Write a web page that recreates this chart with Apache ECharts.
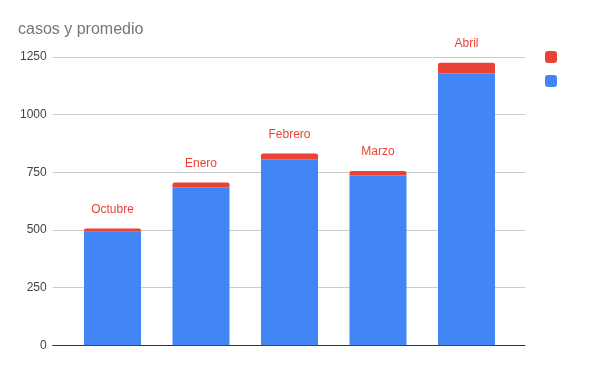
<!DOCTYPE html>
<html><head><meta charset="utf-8">
<script src="https://cdn.jsdelivr.net/npm/echarts@6/dist/echarts.min.js"></script>
<style>html,body{margin:0;padding:0;background:#fff}#c{width:600px;height:371px}</style>
</head><body><div id="c"></div>
<script>
const categories = ['Octubre', 'Enero', 'Febrero', 'Marzo', 'Abril'];
const casos = [492, 684, 807, 736, 1180];
const promedio = [14, 22, 25, 20, 45];
const yTicks = [0, 250, 500, 750, 1000, 1250];

const FONT = 'Liberation Sans, Arial, sans-serif';
const chart = echarts.init(document.getElementById('c'));
chart.setOption({
  animation: false,
  title: { text: 'casos y promedio', left: 18, top: 22, padding: 0, textStyle: { fontFamily: FONT, fontSize: 16, fontWeight: 'normal', color: '#757575' } },
  legend: {
    orient: 'vertical', left: 545, top: 51, padding: 0, itemWidth: 12, itemHeight: 12, itemGap: 12,
    icon: 'roundRect', data: ['promedio', 'casos'], formatter: () => '', selectedMode: false
  },
  grid: [
    { left: 52.7, right: 75, top: 57, bottom: 25.7 },
    { left: 68.25, right: 89.25, top: 57, bottom: 25.7 }
  ],
  xAxis: [
    { gridIndex: 0, type: 'value', min: 0, max: 1, axisLine: { show: true, onZero: false, lineStyle: { color: '#333', width: 1 } }, axisTick: { show: false }, axisLabel: { show: false }, splitLine: { show: false } },
    { gridIndex: 1, type: 'category', data: categories, axisLine: { show: false }, axisTick: { show: false }, axisLabel: { show: false } }
  ],
  yAxis: [
    { gridIndex: 0, type: 'value', min: yTicks[0], max: yTicks[yTicks.length - 1], interval: 250,
      axisLine: { show: false }, axisTick: { show: false },
      axisLabel: { margin: 6, color: '#444', fontFamily: FONT, fontSize: 12, formatter: v => String(v) },
      splitLine: { lineStyle: { color: '#ccc', width: 1 } } },
    { gridIndex: 1, type: 'value', min: 0, max: 1250, show: false, splitLine: { show: false } }
  ],
  series: [
    { name: 'casos', type: 'bar', stack: 's', xAxisIndex: 1, yAxisIndex: 1, data: casos, barWidth: 57, itemStyle: { color: '#4285f4' } },
    { name: 'promedio', type: 'bar', stack: 's', xAxisIndex: 1, yAxisIndex: 1, data: promedio, barWidth: 57,
      itemStyle: { color: '#ea4335', borderRadius: [2, 2, 0, 0] },
      label: { show: true, position: 'top', distance: 13, formatter: p => p.name, color: '#ea4335', fontFamily: FONT, fontSize: 12 } }
  ]
});
</script></body></html>
